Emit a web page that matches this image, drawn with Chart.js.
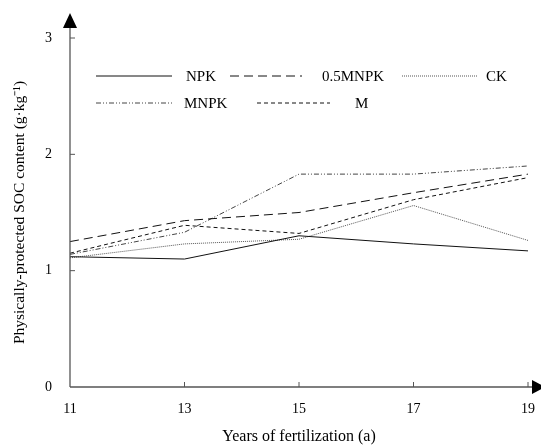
<!DOCTYPE html>
<html><head><meta charset="utf-8">
<script src="https://cdn.jsdelivr.net/npm/chart.js@4.4.1/dist/chart.umd.min.js"></script>
<style>html,body{margin:0;padding:0;background:#fff}#wrap{width:541px;height:446px}</style>
</head><body><div id="wrap"><canvas id="c" width="541" height="446"></canvas></div>
<script>
const years = [11, 13, 15, 17, 19];
const npk = [1.12, 1.10, 1.30, 1.23, 1.17];
const halfMnpk = [1.25, 1.43, 1.50, 1.67, 1.83];
const ck = [1.11, 1.23, 1.27, 1.56, 1.26];
const mnpk = [1.14, 1.33, 1.83, 1.83, 1.90];
const m = [1.15, 1.39, 1.32, 1.61, 1.80];
const seriesNames = ['NPK', '0.5MNPK', 'CK', 'MNPK', 'M'];
const yTicks = [0, 1, 2, 3];

const FONT = '"Liberation Serif", "Times New Roman", serif';
const pts = arr => years.map((x, i) => ({x, y: arr[i]}));
const styles = [
  {c: '#111', d: []},
  {c: '#111', d: [9, 5]},
  {c: '#555', d: [1, 1]},
  {c: '#444', d: [5, 2, 1, 2, 1, 2]},
  {c: '#111', d: [4, 3]}
];
const values = [npk, halfMnpk, ck, mnpk, m];
const datasets = values.map((v, i) => ({
  label: seriesNames[i], data: pts(v), borderColor: styles[i].c, borderDash: styles[i].d,
  borderWidth: 1, pointRadius: 0, fill: false, tension: 0
}));

const legendPos = [
  {lx1: 96, lx2: 172, tx: 186, y: 76},
  {lx1: 230, lx2: 302, tx: 322, y: 76},
  {lx1: 402, lx2: 478, tx: 486, y: 76},
  {lx1: 96, lx2: 172, tx: 184, y: 103},
  {lx1: 257, lx2: 330, tx: 355, y: 103}
];

const axesPlugin = {
  id: 'axesPlugin',
  afterDraw(chart) {
    const ctx = chart.ctx, a = chart.chartArea, xs = chart.scales.x, ys = chart.scales.y;
    ctx.save();
    ctx.strokeStyle = '#555'; ctx.fillStyle = '#000'; ctx.lineWidth = 1.3;
    ctx.beginPath(); ctx.moveTo(a.left, a.bottom); ctx.lineTo(a.left, 26); ctx.stroke();
    ctx.beginPath(); ctx.moveTo(a.left, a.bottom); ctx.lineTo(533, a.bottom); ctx.stroke();
    ctx.lineWidth = 1;
    yTicks.forEach(t => { if (t === 0) return; const y = ys.getPixelForValue(t); ctx.beginPath(); ctx.moveTo(a.left, y); ctx.lineTo(a.left + 5, y); ctx.stroke(); });
    years.forEach(t => { if (t === years[0]) return; const x = xs.getPixelForValue(t); ctx.beginPath(); ctx.moveTo(x, a.bottom); ctx.lineTo(x, a.bottom - 5); ctx.stroke(); });
    ctx.beginPath(); ctx.moveTo(a.left, 13); ctx.lineTo(a.left - 7, 28); ctx.lineTo(a.left + 7, 28); ctx.closePath(); ctx.fill();
    ctx.beginPath(); ctx.moveTo(545, a.bottom); ctx.lineTo(532, a.bottom - 7); ctx.lineTo(532, a.bottom + 7); ctx.closePath(); ctx.fill();
    ctx.font = '15px ' + FONT; ctx.textBaseline = 'middle'; ctx.fillStyle = '#000';
    chart.data.datasets.forEach((ds, i) => {
      const p = legendPos[i];
      ctx.strokeStyle = ds.borderColor; ctx.lineWidth = 1; ctx.setLineDash(ds.borderDash);
      ctx.beginPath(); ctx.moveTo(p.lx1, p.y); ctx.lineTo(p.lx2, p.y); ctx.stroke();
      ctx.setLineDash([]);
      ctx.fillText(ds.label, p.tx, p.y + 1);
    });
    ctx.restore();
  }
};

new Chart(document.getElementById('c'), {
  type: 'line',
  data: {datasets},
  options: {
    responsive: false, animation: false, devicePixelRatio: 1,
    layout: {padding: {left: 0, right: 13, top: 38, bottom: 0}},
    plugins: {legend: {display: false}, tooltip: {enabled: false}},
    scales: {
      x: {
        type: 'linear', min: 11, max: 19,
        afterBuildTicks: s => { s.ticks = years.map(v => ({value: v})); },
        grid: {display: false, drawTicks: false}, border: {display: false},
        ticks: {color: '#000', font: {family: FONT, size: 14}, padding: 14, maxRotation: 0},
        title: {display: true, text: 'Years of fertilization (a)', color: '#000', font: {family: FONT, size: 16}, padding: {top: 12, bottom: 0}},
        afterFit: s => { s.height = 59; s.paddingRight = 0; s.paddingLeft = 0; }
      },
      y: {
        type: 'linear', min: 0, max: 3,
        afterBuildTicks: s => { s.ticks = yTicks.map(v => ({value: v})); },
        grid: {display: false, drawTicks: false}, border: {display: false},
        ticks: {color: '#000', font: {family: FONT, size: 14}, padding: 18},
        title: {display: true, text: 'Physically-protected SOC content (g·kg⁻¹)', color: '#000', font: {family: FONT, size: 15.5}, padding: {top: 11, bottom: 0}},
        afterFit: s => { s.width = 70; }
      }
    }
  },
  plugins: [axesPlugin]
});
</script></body></html>
